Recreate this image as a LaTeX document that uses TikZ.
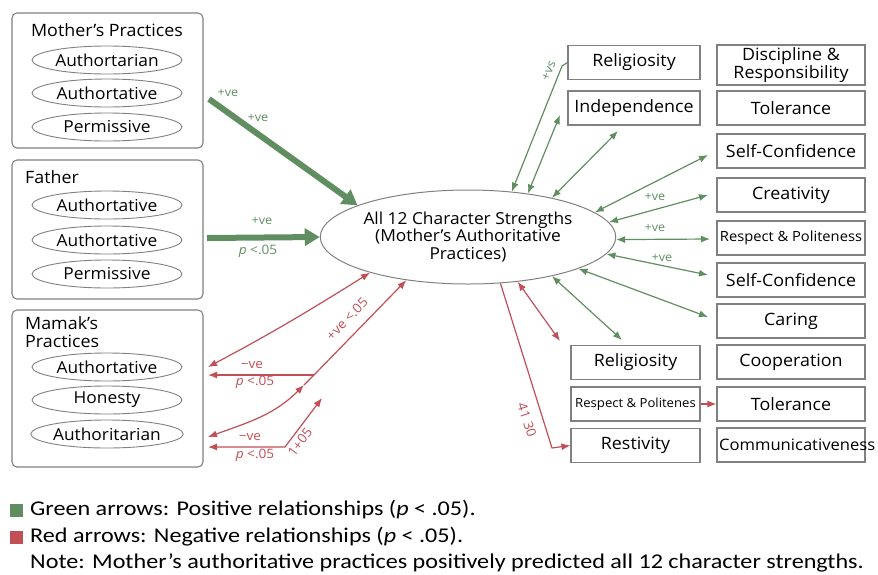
\documentclass[tikz,border=0pt]{standalone}
\usepackage{fontspec}
\setmainfont{Open Sans}[FakeStretch=1.05]
\newfontfamily\legendfont{Carlito}[FakeStretch=1.15]
\usepackage{xcolor}
\usetikzlibrary{arrows.meta,shapes.geometric}

\definecolor{gr}{RGB}{96,142,96}
\definecolor{rd}{RGB}{194,78,86}
\definecolor{bd}{RGB}{128,128,128}

\tikzset{
  grp/.style={draw=bd,rounded corners=5pt,line width=1.1pt,minimum width=191pt,inner sep=0pt},
  opt/.style={ellipse,draw=bd,line width=0.9pt,minimum width=150pt,minimum height=28pt,inner sep=0pt,font=\fontsize{16.5}{20}\selectfont},
  ttl/.style={inner sep=0pt,font=\fontsize{17}{18}\selectfont},
  box/.style={rectangle,draw=bd,line width=1.1pt,minimum height=34pt,inner sep=0pt,font=\fontsize{17}{18}\selectfont},
  gl/.style={gr,line width=1.2pt},
  rl/.style={rd,line width=1.2pt},
  glbl/.style={gr,inner sep=0pt,font=\fontsize{12}{12}\selectfont},
  rlbl/.style={rd,inner sep=0pt,font=\fontsize{13}{13}\selectfont},
  leg/.style={anchor=west,inner sep=0pt,font=\legendfont\fontsize{21}{22}\selectfont}
}

\begin{document}
\begin{tikzpicture}[x=1pt,y=1pt,>={Latex[length=9pt,width=7pt]}]
\useasboundingbox (0,0) rectangle (878,-574);

\node[grp,minimum height=135pt] (mom) at (107.5,-80.5) {};
\node[ttl] (momt) at (107,-30) {Mother’s Practices};
\node[opt] (m1) at (107,-60) {Authortarian};
\node[opt] (m2) at (107,-93) {Authortative};
\node[opt] (m3) at (107,-127) {Permissive};

\node[grp,minimum height=139pt] (dad) at (107.5,-229.5) {};
\node[ttl,anchor=west] (dadt) at (25,-177) {Father};
\node[opt] (f1) at (107,-205) {Authortative};
\node[opt] (f2) at (107,-240) {Authortative};
\node[opt] (f3) at (107,-274) {Permissive};

\node[grp,minimum height=157pt] (mam) at (107.5,-388.5) {};
\node[ttl,anchor=west,align=left] (mamt) at (25,-332) {Mamak’s\\Practices};
\node[opt] (k1) at (107,-367) {Authortative};
\node[opt] (k2) at (107,-400) {Honesty};
\node[opt] (k3) at (107,-434) {Authoritarian};

\node[ellipse,draw=bd,line width=1pt,minimum width=270pt,minimum height=94pt,inner sep=0pt,align=center,
  font=\fontsize{16.5}{17.5}\selectfont] (c) at (468,-237) {All 12 Character Strengths\\(Mother’s Authoritative\\Practices)};

\node[box,minimum width=132pt] (rel1) at (634,-62.5) {Religiosity};
\node[box,minimum width=132pt] (ind) at (634,-108) {Independence};
\node[box,minimum width=148pt,minimum height=40pt,align=center] (disc) at (791,-65) {Discipline \&\\Responsibility};
\node[box,minimum width=148pt] (tol1) at (791,-108) {Tolerance};
\node[box,minimum width=148pt] (sc1) at (791,-151) {Self-Confidence};
\node[box,minimum width=148pt] (cre) at (791,-195) {Creativity};
\node[box,minimum width=148pt,font=\fontsize{14}{14}\selectfont] (resp) at (791,-238) {Respect \& Politeness};
\node[box,minimum width=148pt] (sc2) at (791,-280) {Self-Confidence};
\node[box,minimum width=148pt] (car) at (791,-321) {Caring};
\node[box,minimum width=148pt] (coop) at (791,-362) {Cooperation};
\node[box,minimum width=148pt] (tol2) at (791,-404) {Tolerance};
\node[box,minimum width=148pt] (comm) at (791,-445) {};
\node[ttl,anchor=west,font=\fontsize{15.8}{16}\selectfont] (commt) at (719,-445) {Communicativeness};
\node[box,minimum width=129pt] (rel2) at (635.5,-362.5) {Religiosity};
\node[box,minimum width=129pt,font=\fontsize{12.5}{12.5}\selectfont] (resp2) at (635.5,-404) {Respect \& Politenes};
\node[box,minimum width=129pt] (rest) at (635.5,-445.5) {Restivity};

\coordinate (ms) at (209,-99);
\coordinate (fs) at (207,-238);
\draw[gr,line width=6pt,-{Triangle[length=15pt,width=17pt]}] (ms) -- (c.164);
\draw[gr,line width=6pt,-{Triangle[length=15pt,width=17pt]}] (fs) -- (c.180);
\node[glbl] (p1) at (228,-93) {+ve};
\node[glbl] (p2) at (258,-118) {+ve};
\node[glbl] (p3) at (262,-221) {+ve};
\node[glbl,font=\fontsize{13}{13}\selectfont] (p4) at (258,-251) {\textit{p} <.05};

\coordinate (vs) at (562,-66);
\coordinate (g2) at (560,-115);
\coordinate (g3) at (618,-131);
\coordinate (g4) at (708,-155);
\coordinate (g5) at (708,-195);
\coordinate (g6) at (710,-239);
\coordinate (g7) at (708,-275);
\coordinate (g8) at (708,-317);
\coordinate (g9) at (622,-340);
\draw[gl,<-] (c.46) -- (vs) -- (rel1.west);
\draw[gl,<->] (c.36) -- (g2);
\draw[gl,<->] (c.25) -- (g3);
\draw[gl,<->] (c.11) -- (g4);
\draw[gl,<->] (c.6) -- (g5);
\draw[gl,<->] (c.359) -- (g6);
\draw[gl,<->] (c.353) -- (g7);
\draw[gl,<->] (c.344) -- (g8);
\draw[gl,<->] (c.335) -- (g9);
\node[glbl,rotate=67] (q1) at (549,-71) {+vs};
\node[glbl] (q2) at (655,-197) {+ve};
\node[glbl] (q3) at (655,-228) {+ve};
\node[glbl] (q4) at (662,-258) {+ve};

\coordinate (r1) at (560,-341);
\coordinate (r2) at (552,-448);
\draw[rl,<->] (c.318) -- (r1);
\draw[rl,->] (c.305) -- (r2) -- (rest.west);
\draw[rl,->] (resp2.east) -- (tol2.west);
\node[rlbl,rotate=-72] (s1) at (527,-420) {41 30};

\coordinate (t1) at (208,-367);
\coordinate (j1) at (314,-375);
\coordinate (t2) at (208,-375);
\coordinate (t3) at (208,-437);
\coordinate (n3) at (304,-385);
\coordinate (j2) at (285,-447);
\coordinate (t4) at (208,-447);
\coordinate (t5) at (322,-398);
\draw[rl,<->] (t1) to[out=28,in=212] (c.200);
\draw[rl,->] (j1) -- (t2);
\draw[rl,<->] (t3) to[out=20,in=225] (n3);
\draw[rl,->] (n3) -- (j1) -- (c.215);
\draw[rl,<->] (t4) -- (j2) -- (t5);
\node[rlbl] (s2) at (252,-365) {−ve};
\node[rlbl] (s3) at (255,-382) {\textit{p} <.05};
\node[rlbl] (s4) at (250,-437) {−ve};
\node[rlbl] (s5) at (255,-455) {\textit{p} <.05};
\node[rlbl,rotate=46] (s6) at (347,-319) {+ve <.05};
\node[rlbl,rotate=53] (s7) at (300,-442) {1+05};

\fill[gr] (10,-504) rectangle (23,-517);
\fill[rd] (10,-531) rectangle (23,-544);
\node[leg] (lg1) at (30,-510) {Green arrows: Positive relationships (\textit{p} < .05).};
\node[leg] (lg2) at (30,-537) {Red arrows: Negative relationships (\textit{p} < .05).};
\node[leg] (lg3) at (30,-563) {Note: Mother’s authoritative practices positively predicted all 12 character strengths.};
\end{tikzpicture}
\end{document}
